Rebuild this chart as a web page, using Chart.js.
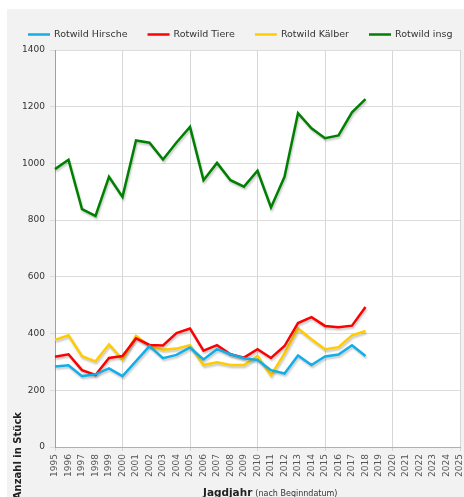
<!DOCTYPE html>
<html>
<head>
<meta charset="utf-8">
<script src="https://cdn.jsdelivr.net/npm/chart.js@4"></script>
<style>
html,body{margin:0;padding:0;background:#fff;}
#wrap{position:relative;width:464px;height:497px;}
canvas{display:block;}
</style>
</head>
<body>
<div id="wrap"><canvas id="c" width="464" height="497"></canvas></div>
<script>
const tickLabels = ['1995','1996','1997','1998','1999','2000','2001','2002','2003','2004','2005','2006','2007','2008','2009','2010','2011','2012','2013','2014','2015','2016','2017','2018','2019','2020','2021','2022','2023','2024','2025'];
const hirsche = [284,288,250,256,277,250,303,356,313,325,351,309,345,327,313,307,271,259,323,289,319,326,359,321];
const tiere   = [318,327,271,254,314,321,383,360,358,402,418,340,359,327,315,345,314,356,437,458,427,422,428,494];
const kaelber = [378,394,320,302,362,309,392,356,343,347,359,289,299,289,289,321,253,330,418,380,345,352,394,409];
const insg    = [980,1013,839,815,953,882,1081,1073,1014,1074,1129,941,1002,941,918,974,845,953,1177,1124,1089,1099,1180,1227];
const seriesNames = ['Rotwild Hirsche','Rotwild Tiere','Rotwild Kälber','Rotwild insg'];
const seriesColors = ['#12aee8','#ff0000','#ffcc00','#008000'];
const yTitle = 'Anzahl in Stück';
const xTitleMain = 'Jagdjahr';
const xTitleSub = '(nach Beginndatum)';

const FONT = '"DejaVu Sans", Verdana, sans-serif';

const bgPlugin = {
  id: 'bg',
  beforeDraw(chart) {
    const {ctx, chartArea: a} = chart;
    ctx.save();
    ctx.fillStyle = '#ffffff';
    ctx.fillRect(0, 0, chart.width, chart.height);
    ctx.fillStyle = '#f2f2f2';
    ctx.fillRect(7, 9, chart.width - 7, chart.height - 9);
    ctx.fillStyle = '#ffffff';
    ctx.fillRect(a.left, a.top, a.right - a.left, a.bottom - a.top);
    ctx.restore();
  },
  beforeDatasetDraw(chart) {
    const ctx = chart.ctx;
    ctx.save();
    ctx.shadowColor = 'rgba(0,0,0,0.22)';
    ctx.shadowBlur = 2;
    ctx.shadowOffsetX = 1;
    ctx.shadowOffsetY = 2;
  },
  afterDatasetDraw(chart) {
    chart.ctx.restore();
  },
  afterDraw(chart) {
    const ctx = chart.ctx;
    // legend built from the datasets
    ctx.save();
    ctx.font = '9.5px ' + FONT;
    ctx.textBaseline = 'middle';
    ctx.textAlign = 'left';
    let x = 28;
    const ly = 34.5;
    chart.data.datasets.forEach(ds => {
      ctx.strokeStyle = ds.borderColor;
      ctx.lineWidth = 2.5;
      ctx.beginPath();
      ctx.moveTo(x, ly);
      ctx.lineTo(x + 22, ly);
      ctx.stroke();
      ctx.fillStyle = '#333';
      ctx.fillText(ds.label, x + 26, ly);
      x += 26 + ctx.measureText(ds.label).width + 20;
    });
    ctx.restore();
    // y title
    ctx.save();
    ctx.translate(18, 412);
    ctx.rotate(-Math.PI / 2);
    ctx.font = 'bold 10px ' + FONT;
    ctx.fillStyle = '#222';
    ctx.textAlign = 'right';
    ctx.textBaseline = 'middle';
    ctx.fillText(yTitle, 0, 0);
    ctx.restore();
    // x title
    ctx.save();
    ctx.font = 'bold 10.5px ' + FONT;
    ctx.fillStyle = '#222';
    ctx.textBaseline = 'alphabetic';
    ctx.textAlign = 'left';
    ctx.fillText(xTitleMain, 203, 495.5);
    const w = ctx.measureText(xTitleMain).width;
    ctx.font = '8px ' + FONT;
    ctx.fillStyle = '#333';
    ctx.fillText(xTitleSub, 203 + w + 3, 495.5);
    ctx.restore();
  }
};

const datasets = [hirsche, tiere, kaelber, insg].map((d, i) => ({
  label: seriesNames[i],
  data: d,
  borderColor: seriesColors[i],
  backgroundColor: seriesColors[i],
  borderWidth: 2.5,
  pointRadius: 0,
  tension: 0,
  fill: false
}));

new Chart(document.getElementById('c'), {
  type: 'line',
  data: { labels: tickLabels, datasets },
  options: {
    responsive: false,
    animation: false,
    layout: { padding: { left: 23, right: 4, top: 50, bottom: 0 } },
    plugins: {
      legend: { display: false },
      tooltip: { enabled: false }
    },
    scales: {
      x: {
        type: 'category',
        offset: false,
        afterFit(s) { s.height = 50; s.paddingLeft = 0; s.paddingRight = 0; },
        grid: {
          color: (c) => (c.index % 5 === 0 ? '#d6d6d6' : 'rgba(0,0,0,0)'),
          tickLength: 4,
          drawTicks: true
        },
        border: { display: true, color: '#b0b0b0', width: 1 },
        ticks: {
          autoSkip: false,
          maxRotation: 90,
          minRotation: 90,
          padding: 3,
          color: '#555',
          font: { family: FONT, size: 9 }
        }
      },
      y: {
        min: 0,
        max: 1400,
        afterFit(s) { s.width = 32; s.paddingTop = 0; s.paddingBottom = 0; },
        grid: { color: '#dcdcdc', tickLength: 5, drawTicks: true },
        border: { display: true, color: '#a0a0a0', width: 1 },
        ticks: {
          stepSize: 200,
          padding: 5,
          color: '#333',
          font: { family: FONT, size: 9 },
          callback: (v) => String(v)
        }
      }
    }
  },
  plugins: [bgPlugin]
});
</script>
</body>
</html>
